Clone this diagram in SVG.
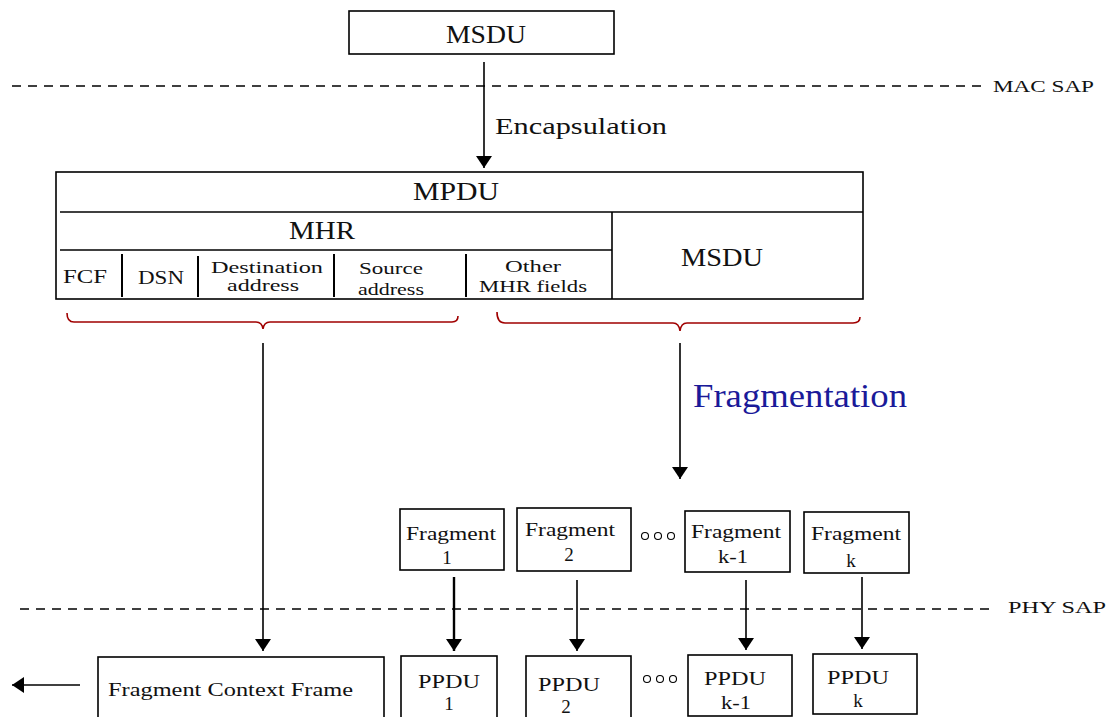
<svg xmlns="http://www.w3.org/2000/svg" width="1117" height="717" viewBox="0 0 1117 717" font-family="'Liberation Serif', 'DejaVu Serif', serif">
  <defs>
    <marker id="arrowBig" viewBox="0 0 12 10" refX="12" refY="5" markerWidth="12" markerHeight="16" markerUnits="userSpaceOnUse" orient="auto" preserveAspectRatio="none">
      <path d="M0,0 L12,5 L0,10 Z" fill="#000"/>
    </marker>
  </defs>
  <style>
    text { font-family: "Liberation Serif", "DejaVu Serif", serif; fill: #111; }
    .box { fill: #fff; stroke: #000; stroke-width: 1.6; }
    .line { stroke: #000; stroke-width: 1.6; fill: none; }
    .sep { stroke: #000; stroke-width: 2; }
    .dash { stroke: #000; stroke-width: 1.5; stroke-dasharray: 9 7; fill: none; }
    .conn { stroke: #000; stroke-width: 1.6; fill: none; marker-end: url(#arrowBig); }
    .brace { stroke: #a00000; stroke-width: 1.6; fill: none; }
    .big { font-size: 26px; text-anchor: middle; }
    .mid { font-size: 19px; text-anchor: middle; }
    .small { font-size: 17px; text-anchor: middle; }
    .sap { font-size: 17px; }
    .dots { fill: none; stroke: #000; stroke-width: 1.1; }
  </style>

  <!-- service access point boundaries -->
  <g id="sap-lines">
    <line class="dash" x1="12" y1="86" x2="982" y2="86"/>
    <text class="sap" x="993" y="92" textLength="101" lengthAdjust="spacingAndGlyphs">MAC SAP</text>
    <line class="dash" x1="20" y1="609" x2="992" y2="609"/>
    <text class="sap" x="1008" y="613" textLength="98" lengthAdjust="spacingAndGlyphs">PHY SAP</text>
  </g>

  <g id="msdu-top">
    <rect class="box" x="349" y="11" width="265" height="43"/>
    <text class="big" x="486" y="43" textLength="80" lengthAdjust="spacingAndGlyphs">MSDU</text>
  </g>

  <g id="mpdu">
    <rect class="box" x="56" y="172" width="807" height="127"/>
    <line class="line" x1="60" y1="212" x2="863" y2="212"/>
    <line class="line" x1="612" y1="212" x2="612" y2="299"/>
    <line class="line" x1="60" y1="250" x2="612" y2="250"/>
    <line class="sep" x1="122" y1="254" x2="122" y2="297"/>
    <line class="sep" x1="198" y1="256" x2="198" y2="297"/>
    <line class="sep" x1="334" y1="254" x2="334" y2="297"/>
    <line class="sep" x1="466" y1="254" x2="466" y2="297"/>
    <text class="big" x="456" y="200" textLength="86" lengthAdjust="spacingAndGlyphs">MPDU</text>
    <text class="big" x="322" y="239" textLength="66" lengthAdjust="spacingAndGlyphs">MHR</text>
    <text class="mid" x="85" y="283" textLength="44" lengthAdjust="spacingAndGlyphs">FCF</text>
    <text class="mid" x="161" y="284" textLength="46" lengthAdjust="spacingAndGlyphs">DSN</text>
    <text class="small" x="267" y="273" textLength="112" lengthAdjust="spacingAndGlyphs">Destination</text>
    <text class="small" x="263" y="291" textLength="72" lengthAdjust="spacingAndGlyphs">address</text>
    <text class="small" x="391" y="274" textLength="64" lengthAdjust="spacingAndGlyphs">Source</text>
    <text class="small" x="391" y="295" textLength="66" lengthAdjust="spacingAndGlyphs">address</text>
    <text class="small" x="533" y="272" textLength="56" lengthAdjust="spacingAndGlyphs">Other</text>
    <text class="small" x="533" y="292" textLength="108" lengthAdjust="spacingAndGlyphs">MHR fields</text>
    <text class="big" x="722" y="266" textLength="82" lengthAdjust="spacingAndGlyphs">MSDU</text>
  </g>

  <g id="braces">
    <path class="brace" d="M67,313 Q67,322 74,322 L256,322 Q262,322 263,329 Q264,322 270,322 L452,322 Q458,322 458,316"/>
    <path class="brace" d="M497,312 Q497,323 505,323 L673,323 Q679,323 680,331 Q681,323 687,323 L853,323 Q860,323 860,317"/>
  </g>

  <g id="fragments">
    <g id="frag-1">
      <rect class="box" x="400" y="509" width="104" height="61"/>
      <text class="mid" x="451" y="540" textLength="90" lengthAdjust="spacingAndGlyphs">Fragment</text>
      <text class="mid" x="447" y="564">1</text>
    </g>
    <g id="frag-2">
      <rect class="box" x="517" y="508" width="114" height="63"/>
      <text class="mid" x="570" y="536" textLength="90" lengthAdjust="spacingAndGlyphs">Fragment</text>
      <text class="mid" x="569" y="561">2</text>
    </g>
    <g id="frag-dots">
      <circle class="dots" cx="645" cy="536" r="3.5"/>
      <circle class="dots" cx="658" cy="536" r="3.5"/>
      <circle class="dots" cx="671" cy="536" r="3.5"/>
    </g>
    <g id="frag-k-1">
      <rect class="box" x="685" y="511" width="105" height="61"/>
      <text class="mid" x="736" y="538" textLength="90" lengthAdjust="spacingAndGlyphs">Fragment</text>
      <text class="mid" x="733" y="563" textLength="30" lengthAdjust="spacingAndGlyphs">k-1</text>
    </g>
    <g id="frag-k">
      <rect class="box" x="804" y="512" width="105" height="61"/>
      <text class="mid" x="856" y="540" textLength="90" lengthAdjust="spacingAndGlyphs">Fragment</text>
      <text class="mid" x="851" y="567">k</text>
    </g>
  </g>

  <g id="phy-frames">
    <g id="fcf-frame">
      <rect class="box" x="98" y="657" width="286" height="70"/>
      <text x="108" y="696" style="font-size:18px" textLength="245" lengthAdjust="spacingAndGlyphs">Fragment Context Frame</text>
    </g>
    <g id="ppdu-1">
      <rect class="box" x="401" y="656" width="96" height="70"/>
      <text class="mid" x="449" y="688" textLength="62" lengthAdjust="spacingAndGlyphs">PPDU</text>
      <text class="mid" x="449" y="710">1</text>
    </g>
    <g id="ppdu-2">
      <rect class="box" x="526" y="656" width="105" height="70"/>
      <text class="mid" x="569" y="691" textLength="62" lengthAdjust="spacingAndGlyphs">PPDU</text>
      <text class="mid" x="566" y="713">2</text>
    </g>
    <g id="ppdu-dots">
      <circle class="dots" cx="647" cy="679" r="3.5"/>
      <circle class="dots" cx="660" cy="679" r="3.5"/>
      <circle class="dots" cx="673" cy="679" r="3.5"/>
    </g>
    <g id="ppdu-k-1">
      <rect class="box" x="688" y="655" width="104" height="61"/>
      <text class="mid" x="735" y="685" textLength="62" lengthAdjust="spacingAndGlyphs">PPDU</text>
      <text class="mid" x="736" y="709" textLength="30" lengthAdjust="spacingAndGlyphs">k-1</text>
    </g>
    <g id="ppdu-k">
      <rect class="box" x="813" y="654" width="104" height="60"/>
      <text class="mid" x="858" y="684" textLength="62" lengthAdjust="spacingAndGlyphs">PPDU</text>
      <text class="mid" x="858" y="707">k</text>
    </g>
  </g>

  <g id="connectors">
    <line class="conn" x1="484" y1="62" x2="484" y2="168"/>
    <text x="495" y="134" style="font-size:24px" textLength="172" lengthAdjust="spacingAndGlyphs">Encapsulation</text>
    <line class="conn" x1="263" y1="343" x2="263" y2="651"/>
    <line class="conn" x1="680" y1="343" x2="680" y2="479"/>
    <text x="693" y="407" style="font-size:33px; fill:#1a1a99" textLength="214" lengthAdjust="spacingAndGlyphs">Fragmentation</text>
    <line class="conn" x1="454" y1="577" x2="454" y2="651" style="stroke-width:2.4"/>
    <line class="conn" x1="577" y1="580" x2="577" y2="651"/>
    <line class="conn" x1="746" y1="580" x2="746" y2="650"/>
    <line class="conn" x1="862" y1="577" x2="862" y2="649"/>
    <line class="conn" x1="80" y1="685" x2="12" y2="685"/>
  </g>
</svg>
